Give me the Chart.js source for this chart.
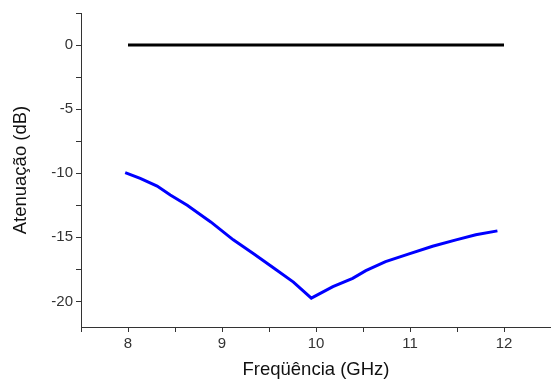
<!DOCTYPE html>
<html>
<head>
<meta charset="utf-8">
<script src="https://cdn.jsdelivr.net/npm/chart.js@4.4.1/dist/chart.umd.min.js"></script>
<style>
  html, body { margin: 0; padding: 0; background: #fff; }
  #wrap { width: 551px; height: 380px; }
</style>
</head>
<body>
<div id="wrap"><canvas id="chart" width="551" height="380"></canvas></div>
<script>
// reference line (0 dB)
const ref_freq = [8, 12];
const ref_atten = [0, 0];

// measured attenuation
const freq = [7.97, 8.13, 8.31, 8.45, 8.63, 8.88, 9.12, 9.34, 9.55, 9.76, 9.95,
              10.18, 10.39, 10.53, 10.74, 10.99, 11.24, 11.49, 11.70, 11.93];
const atten = [-9.95, -10.4, -11.0, -11.7, -12.5, -13.8, -15.2, -16.3, -17.4, -18.5, -19.75,
               -18.85, -18.2, -17.6, -16.9, -16.3, -15.7, -15.2, -14.8, -14.5];

const x_labels = [8, 9, 10, 11, 12];
const y_labels = [0, -5, -10, -15, -20];

function toPoints(xs, ys) {
    return xs.map(function (x, i) { return { x: x, y: ys[i] }; });
}

const axis_color = '#333';
const font_family = '"Liberation Sans", Arial, sans-serif';

const ctx = document.getElementById('chart').getContext('2d');
new Chart(ctx, {
    type: 'line',
    data: {
        datasets: [
            {
                data: toPoints(ref_freq, ref_atten),
                borderColor: '#000',
                borderWidth: 3,
                pointRadius: 0,
                tension: 0
            }, {
                data: toPoints(freq, atten),
                borderColor: '#0000ff',
                borderWidth: 3,
                pointRadius: 0,
                tension: 0
            }
        ]
    },
    options: {
        responsive: false,
        animation: false,
        layout: { padding: { top: 13, right: 0, bottom: 0, left: 0 } },
        plugins: {
            legend: { display: false },
            tooltip: { enabled: false }
        },
        scales: {
            x: {
                type: 'linear',
                min: 7.5,
                max: 12.5,
                afterFit: function (scale) {
                    scale.height = 53;
                    scale.paddingRight = 0;
                },
                border: { display: true, color: axis_color, width: 1 },
                grid: { drawOnChartArea: false, drawTicks: true, tickLength: 5, color: axis_color },
                ticks: {
                    stepSize: 0.5,
                    includeBounds: false,
                    maxRotation: 0,
                    autoSkip: false,
                    padding: 3,
                    color: axis_color,
                    font: { family: font_family, size: 15 },
                    callback: function (v) { return x_labels.includes(v) ? String(v) : ''; }
                },
                title: {
                    display: true,
                    text: 'Freqüência (GHz)',
                    color: '#111',
                    padding: { top: 0, bottom: -1 },
                    font: { family: font_family, size: 18.5 }
                }
            },
            y: {
                min: -22,
                max: 2.5,
                afterFit: function (scale) { scale.width = 81; },
                border: { display: true, color: axis_color, width: 1 },
                grid: { drawOnChartArea: false, drawTicks: true, tickLength: 5, color: axis_color },
                ticks: {
                    stepSize: 2.5,
                    includeBounds: false,
                    autoSkip: false,
                    padding: 3,
                    color: axis_color,
                    font: { family: font_family, size: 15 },
                    callback: function (v) { return y_labels.includes(v) ? String(v) : ''; }
                },
                title: {
                    display: true,
                    text: 'Atenuação (dB)',
                    color: '#111',
                    padding: { top: 10, bottom: 0 },
                    font: { family: font_family, size: 18.5 }
                }
            }
        }
    }
});
</script>
</body>
</html>
